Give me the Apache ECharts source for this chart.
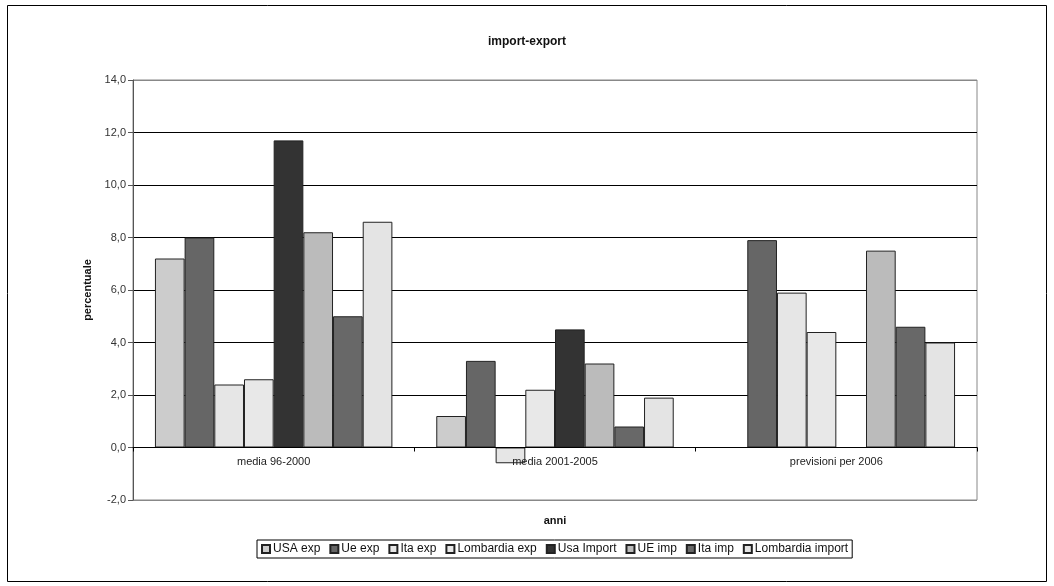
<!DOCTYPE html>
<html>
<head>
<meta charset="utf-8">
<style>
  html, body { margin: 0; padding: 0; background: #fff; }
  #chart { width: 1054px; height: 586px; }
</style>
<script src="https://cdn.jsdelivr.net/npm/echarts@6/dist/echarts.min.js"></script>
</head>
<body>
<div id="chart"></div>
<script>
// Periods on the category axis
const categories = ['media 96-2000', 'media 2001-2005', 'previsioni per 2006'];

// Growth rates (%) per series, one value per period
const usaExp        = [7.2, 1.2, null];
const ueExp         = [8.0, 3.3, 7.9];
const itaExp        = [2.4, -0.6, 5.9];
const lombardiaExp  = [2.6, 2.2, 4.4];
const usaImport     = [11.7, 4.5, null];
const ueImp         = [8.2, 3.2, 7.5];
const itaImp        = [5.0, 0.8, 4.6];
const lombardiaImp  = [8.6, 1.9, 4.0];

const seriesNames = ['USA exp', 'Ue exp', 'Ita exp', 'Lombardia exp', 'Usa Import', 'UE imp', 'Ita imp', 'Lombardia import'];
const seriesData  = [usaExp, ueExp, itaExp, lombardiaExp, usaImport, ueImp, itaImp, lombardiaImp];
const seriesColors = ['#cccccc', '#666666', '#e6e6e6', '#e8e8e8', '#333333', '#bbbbbb', '#686868', '#e4e4e4'];

const FONT = '"Liberation Sans", Arial, sans-serif';

const chart = echarts.init(document.getElementById('chart'), null, { renderer: 'canvas' });

chart.setOption({
  backgroundColor: '#ffffff',
  animation: false,
  title: {
    text: 'import-export',
    left: 'center',
    top: 31,
    textStyle: { fontFamily: FONT, fontSize: 12, fontWeight: 'bold', color: '#111' }
  },
  legend: {
    data: seriesNames,
    top: 540,
    left: 257,
    icon: 'rect',
    itemWidth: 8,
    itemHeight: 8,
    itemGap: 9,
    padding: [3, 4, 3, 4],
    borderColor: '#000',
    borderWidth: 1,
    textStyle: { fontFamily: FONT, fontSize: 12, color: '#111', padding: [0, 0, 0, -2] }
  },
  grid: {
    left: 133,
    right: 77,
    top: 80,
    bottom: 86,
    show: true,
    borderColor: '#888',
    borderWidth: 1,
    backgroundColor: 'transparent'
  },
  xAxis: {
    type: 'category',
    data: categories,
    z: 5,
    name: 'anni',
    nameLocation: 'middle',
    nameGap: 15,
    nameTextStyle: { fontFamily: FONT, fontSize: 11, fontWeight: 'bold', color: '#111' },
    axisLine: { onZero: true, lineStyle: { color: '#000', width: 1 } },
    axisTick: { show: true, length: 4, lineStyle: { color: '#000' } },
    // labels sit just under the zero line
    axisLabel: { fontFamily: FONT, fontSize: 11, color: '#222', margin: -44 },
    splitLine: { show: false }
  },
  yAxis: {
    type: 'value',
    min: -2,
    max: 14,
    interval: 2,
    name: 'percentuale',
    nameLocation: 'middle',
    nameRotate: 90,
    nameGap: 31,
    nameTextStyle: { fontFamily: FONT, fontSize: 11, fontWeight: 'bold', color: '#111' },
    axisLine: { show: true, lineStyle: { color: '#555', width: 1 } },
    axisTick: { show: true, inside: false, length: 5, lineStyle: { color: '#555' } },
    axisLabel: {
      fontFamily: FONT, fontSize: 11, color: '#333', margin: 7,
      formatter: v => v.toFixed(1).replace('.', ',')
    },
    splitLine: {
      show: true,
      lineStyle: { color: ['#888', '#000', '#000', '#000', '#000', '#000', '#000', '#000', '#888'], width: 1 }
    }
  },
  series: seriesNames.map((name, i) => ({
    name: name,
    type: 'bar',
    data: seriesData[i],
    barGap: '0%',
    barCategoryGap: '15.6%',
    itemStyle: { color: seriesColors[i], borderColor: '#222', borderWidth: 1 }
  })),
  graphic: [{
    type: 'rect',
    shape: { x: 7.5, y: 5.5, width: 1039, height: 576 },
    style: { fill: 'none', stroke: '#000', lineWidth: 1 },
    silent: true,
    z: 100
  }]
});
</script>
</body>
</html>
